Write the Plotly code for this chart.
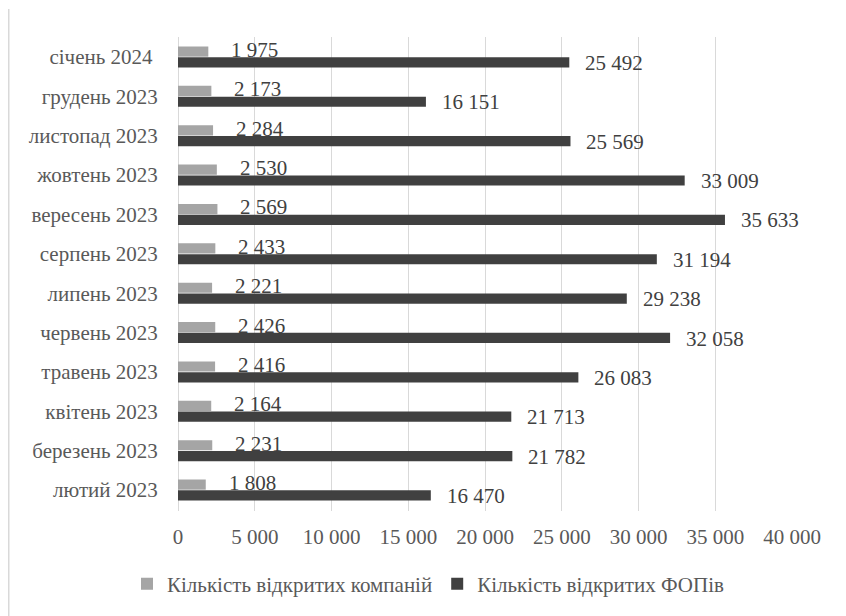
import plotly.graph_objects as go

months = ["січень 2024 ", "грудень 2023", "листопад 2023", "жовтень 2023", "вересень 2023",
          "серпень 2023", "липень 2023", "червень 2023", "травень 2023", "квітень 2023",
          "березень 2023", "лютий 2023"]
companies = [1975, 2173, 2284, 2530, 2569, 2433, 2221, 2426, 2416, 2164, 2231, 1808]
fops = [25492, 16151, 25569, 33009, 35633, 31194, 29238, 32058, 26083, 21713, 21782, 16470]
x_ticks = [0, 5000, 10000, 15000, 20000, 25000, 30000, 35000, 40000]

name_comp = "Кількість відкритих компаній"
name_fop = "Кількість відкритих ФОПів"

FONT = "Liberation Serif"
FS = 21
GRAY = "#a5a5a5"
DARK = "#404040"
TXT = "#595959"

def fmt(v):
    return f"{v:,}".replace(",", " ")

fig = go.Figure()
fig.add_trace(go.Bar(y=months, x=companies, orientation="h", name=name_comp,
                     marker=dict(color=GRAY, line=dict(width=0))))
fig.add_trace(go.Bar(y=months, x=fops, orientation="h", name=name_fop,
                     marker=dict(color=DARK, line=dict(width=0))))

annotations = []
for m, c, f in zip(months, companies, fops):
    annotations.append(dict(x=c, y=m, xref="x", yref="y", text=fmt(c), showarrow=False,
                            xanchor="left", yanchor="middle", xshift=21, yshift=7,
                            font=dict(family=FONT, size=FS, color=DARK)))
    annotations.append(dict(x=f, y=m, xref="x", yref="y", text=fmt(f), showarrow=False,
                            xanchor="left", yanchor="middle", xshift=14, yshift=-6,
                            font=dict(family=FONT, size=FS, color=DARK)))

W, H = 838, 608
fig.update_layout(
    width=W, height=H,
    margin=dict(l=170, r=54, t=29, b=105),
    paper_bgcolor="white", plot_bgcolor="white",
    barmode="group", bargap=0.45, bargroupgap=0.06,
    font=dict(family=FONT, size=FS, color=TXT),
    showlegend=True,
    legend=dict(orientation="h", xref="container", yref="container",
                x=119 / W, y=1 - 576 / H, xanchor="left", yanchor="middle",
                font=dict(family=FONT, size=FS, color=TXT), itemwidth=30),
    annotations=annotations,
    shapes=[dict(type="line", xref="paper", yref="paper",
                 x0=-169.5 / 614, x1=-169.5 / 614,
                 y0=(474 + 28) / 474, y1=-106 / 474,
                 line=dict(color="#d9d9d9", width=2))],
)
fig.update_xaxes(range=[0, 40000], tickvals=x_ticks, ticktext=[fmt(v) for v in x_ticks],
                 showgrid=True, gridcolor="#d9d9d9", gridwidth=1,
                 zeroline=True, zerolinecolor="#d9d9d9", zerolinewidth=1,
                 showline=False, ticks="outside", ticklen=7, tickcolor="rgba(0,0,0,0)",
                 tickfont=dict(family=FONT, size=FS, color=TXT), fixedrange=True)
fig.update_yaxes(autorange="reversed", showgrid=False, showline=False, zeroline=False,
                 ticks="outside", ticklen=15, tickcolor="rgba(0,0,0,0)",
                 tickfont=dict(family=FONT, size=FS, color=TXT), fixedrange=True)

fig.write_html("out.html")
